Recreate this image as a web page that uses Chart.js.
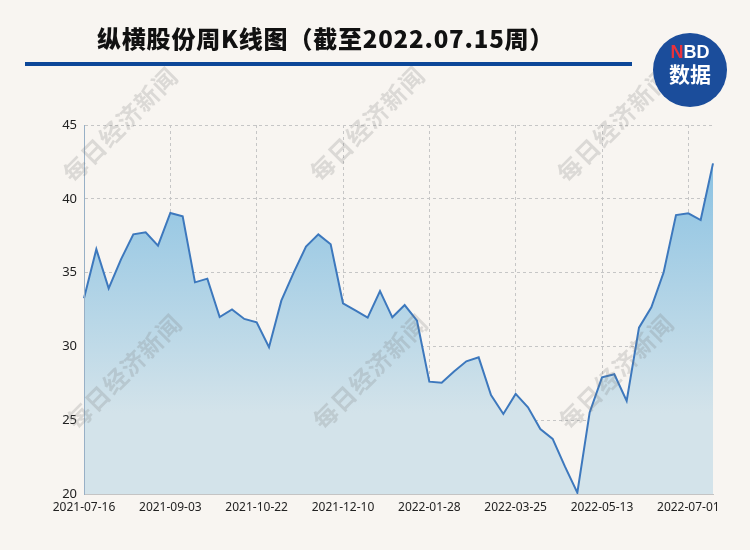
<!DOCTYPE html>
<html>
<head>
<meta charset="utf-8">
<script src="https://cdn.jsdelivr.net/npm/chart.js@4/dist/chart.umd.min.js"></script>
<style>
  html, body { margin: 0; padding: 0; background: #f8f5f1; }
  #wrap { position: relative; width: 750px; height: 550px; overflow: hidden; }
  #grafico { position: absolute; left: 0; top: 0; }
  #titulo {
    position: absolute; left: 97px; top: 20px;
    font-family: "Noto Sans CJK SC", "Noto Sans", sans-serif;
    font-weight: 900; font-size: 24px; color: #111; letter-spacing: 0.8px;
  }
  #linea { position: absolute; left: 25px; top: 62px; width: 607px; height: 4px; background: #0c4798; }
  #logo {
    position: absolute; left: 653px; top: 33px; width: 74px; height: 74px;
    border-radius: 50%; background: #1b4d9b; color: #fff; text-align: center;
    font-family: "Noto Sans CJK SC", "Liberation Sans", sans-serif; font-weight: bold;
  }
  #logo .nbd { position: absolute; left: 0; width: 100%; top: 10px; font-size: 18px; line-height: 18px; font-family: "Liberation Sans", sans-serif; }
  #logo .nbd span { color: #e8323c; }
  #logo .sj { position: absolute; left: 0; width: 100%; top: 27px; font-size: 21px; line-height: 26px; }
</style>
</head>
<body>
<div id="wrap">
  <canvas id="grafico" width="750" height="550"></canvas>
  <div id="titulo">纵横股份周K线图（截至2022.07.15周）</div>
  <div id="linea"></div>
  <div id="logo"><div class="nbd"><span>N</span>BD</div><div class="sj">数据</div></div>
</div>
<script>
// semanas (viernes), sin la semana del Año Nuevo chino
const fechas = [
  '2021-07-16', '2021-07-23', '2021-07-30', '2021-08-06', '2021-08-13', '2021-08-20', '2021-08-27',
  '2021-09-03', '2021-09-10', '2021-09-17', '2021-09-24', '2021-09-30', '2021-10-08', '2021-10-15',
  '2021-10-22', '2021-10-29', '2021-11-05', '2021-11-12', '2021-11-19', '2021-11-26', '2021-12-03',
  '2021-12-10', '2021-12-17', '2021-12-24', '2021-12-31', '2022-01-07', '2022-01-14', '2022-01-21',
  '2022-01-28', '2022-02-11', '2022-02-18', '2022-02-25', '2022-03-04', '2022-03-11', '2022-03-18',
  '2022-03-25', '2022-04-01', '2022-04-08', '2022-04-15', '2022-04-22', '2022-04-29', '2022-05-06',
  '2022-05-13', '2022-05-20', '2022-05-27', '2022-06-02', '2022-06-10', '2022-06-17', '2022-06-24',
  '2022-07-01', '2022-07-08', '2022-07-15'
];

const cierres = [
  33.26, 36.58, 33.93, 35.9, 37.59, 37.73, 36.83,
  39.04, 38.81, 34.34, 34.59, 31.99, 32.51, 31.86,
  31.63, 29.94, 33.1, 35.0, 36.76, 37.59, 36.92,
  32.92, 32.44, 31.95, 33.75, 31.97, 32.8, 31.74,
  27.61, 27.54, 28.3, 28.99, 29.26, 26.71, 25.42,
  26.78, 25.87, 24.4, 23.73, 21.85, 20.09, 25.53,
  27.9, 28.11, 26.3, 31.27, 32.65, 35.02, 38.9,
  39.02, 38.56, 42.4
];

const yTicks = [20, 25, 30, 35, 40, 45];
const marcaAgua = '每日经济新闻';

const pluginMarcaAgua = {
  id: 'marcaAgua',
  afterDraw(chart) {
    const ctx = chart.ctx;
    const centros = [[120, 125], [367, 124], [614, 125], [124, 372], [370, 372], [616, 372]];
    ctx.save();
    ctx.font = 'bold 24px "Noto Sans CJK SC"';
    ctx.fillStyle = 'rgba(120, 120, 120, 0.22)';
    ctx.textAlign = 'center';
    ctx.textBaseline = 'middle';
    centros.forEach(([cx, cy]) => {
      ctx.save();
      ctx.translate(cx, cy);
      ctx.rotate(-Math.PI / 4);
      const paso = 25;
      for (let i = 0; i < marcaAgua.length; i++) {
        ctx.fillText(marcaAgua[i], (i - (marcaAgua.length - 1) / 2) * paso, 0);
      }
      ctx.restore();
    });
    ctx.restore();
  }
};

const ctx = document.getElementById('grafico').getContext('2d');
new Chart(ctx, {
  type: 'line',
  data: {
    labels: fechas,
    datasets: [{
      data: cierres,
      borderColor: '#3d78bd',
      borderWidth: 2,
      pointRadius: 0,
      tension: 0,
      fill: 'start',
      backgroundColor: (c) => {
        const area = c.chart.chartArea;
        if (!area) return '#a9cfe3';
        const g = c.chart.ctx.createLinearGradient(0, area.top, 0, area.bottom);
        g.addColorStop(0, '#80bde1');
        g.addColorStop(0.78, '#d3e3ea');
        g.addColorStop(1, '#d3e3ea');
        return g;
      }
    }]
  },
  options: {
    responsive: false,
    animation: false,
    layout: { padding: { top: 125, right: 37, bottom: 0, left: 0 } },
    plugins: {
      legend: { display: false },
      title: { display: false },
      tooltip: { enabled: false }
    },
    scales: {
      x: {
        offset: false,
        afterFit: (s) => { s.height = 56; },
        border: { display: true, color: '#c4c4c4', width: 1, dash: [3, 3], z: 1 },
        grid: { color: '#c6c6c6', lineWidth: 1, drawTicks: false },
        ticks: {
          autoSkip: false,
          maxRotation: 0,
          padding: 6,
          color: '#222',
          font: { size: 12, family: 'Noto Sans' },
          callback: (v, i) => (i % 7 === 0 ? fechas[i] : null)
        }
      },
      y: {
        min: 20,
        max: 45,
        afterFit: (s) => { s.width = 84; },
        afterBuildTicks: (s) => { s.ticks = yTicks.map(v => ({ value: v })); },
        border: { display: true, color: '#98b0c6', width: 1, dash: [3, 3], z: 1 },
        grid: { color: '#c6c6c6', lineWidth: 1, drawTicks: false },
        ticks: {
          padding: 7,
          color: '#222',
          font: { size: 13, family: 'Noto Sans' }
        }
      }
    }
  },
  plugins: [pluginMarcaAgua]
});
</script>
</body>
</html>
